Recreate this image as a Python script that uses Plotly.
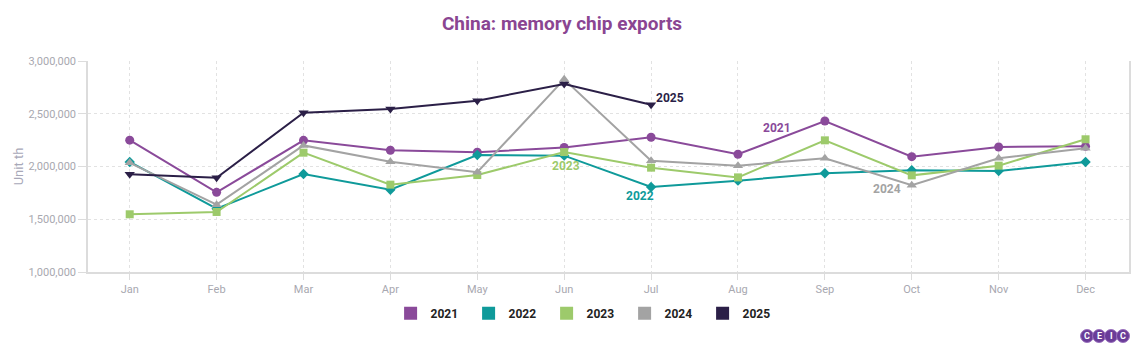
import plotly.graph_objects as go

months = ["Jan", "Feb", "Mar", "Apr", "May", "Jun", "Jul", "Aug", "Sep", "Oct", "Nov", "Dec"]
v2021 = [2250000, 1755000, 2248000, 2154000, 2135000, 2180000, 2277000, 2116000, 2431000, 2093000, 2185000, 2191000]
v2022 = [2043000, 1600000, 1929000, 1780000, 2109000, 2103000, 1806000, 1866000, 1936000, 1964000, 1957000, 2043000]
v2023 = [1547000, 1569000, 2131000, 1828000, 1919000, 2137000, 1989000, 1897000, 2248000, 1916000, 2008000, 2258000]
v2024 = [2035000, 1638000, 2200000, 2046000, 1945000, 2826000, 2055000, 2008000, 2078000, 1822000, 2078000, 2172000]
v2025 = [1926000, 1894000, 2510000, 2545000, 2624000, 2782000, 2586000]

series = [
    ("2021", v2021, "#8a4a9a", "circle", 9),
    ("2022", v2022, "#0f9a9a", "diamond", 8),
    ("2023", v2023, "#9dca6b", "square", 8),
    ("2024", v2024, "#a3a3a3", "triangle-up", 9),
    ("2025", v2025, "#2b1f47", "triangle-down", 9),
]

fig = go.Figure()
for name, vals, color, sym, size in series:
    fig.add_trace(go.Scatter(
        x=months[:len(vals)], y=vals, mode="lines+markers", name=name,
        line=dict(color=color, width=2),
        marker=dict(symbol=sym, size=size, color=color),
        showlegend=False, hovertemplate="%{x}: %{y:,}<extra>" + name + "</extra>"))
for name, vals, color, sym, size in series:
    fig.add_trace(go.Scatter(
        x=[None], y=[None], mode="markers", name=name,
        marker=dict(symbol="square", size=13, color=color, line=dict(width=0)),
        showlegend=True))

labels = [
    ("2025", 6, 2649000, "#2b1f47", "left", 3),
    ("2021", 7.45, 2365000, "#8a4a9a", "center", 0),
    ("2023", 5.02, 2005000, "#9dca6b", "center", 0),
    ("2022", 5.87, 1720000, "#0f9a9a", "center", 0),
    ("2024", 8.72, 1787000, "#a3a3a3", "center", 0),
]
for text, xv, yv, color, anchor, xs in labels:
    fig.add_annotation(x=xv, y=yv, text="<b>" + text + "</b>", showarrow=False,
                       xanchor=anchor, xshift=xs, font=dict(color=color, size=12, family="Roboto"))

# CEIC logo
L, T, W, H = 88, 61, 1043, 211
def px(x):
    return (x - L) / W
def py(y):
    return (T + H - y) / H
centers = [1089, 1101, 1113, 1125]
for cx, ch in zip(centers, "CEIC"):
    fig.add_shape(type="circle", xref="paper", yref="paper", layer="below",
                  x0=px(cx - 6.5), x1=px(cx + 6.5), y0=py(342.5), y1=py(329.5),
                  fillcolor="#6a3c98", line=dict(color="#9a70bd", width=1))
for cx, ch in zip(centers, "CEIC"):
    fig.add_annotation(xref="paper", yref="paper", x=px(cx), y=py(336), text="<b>" + ch + "</b>",
                       showarrow=False, xanchor="center", yanchor="middle",
                       font=dict(color="#ffffff", size=9, family="Roboto"))

fig.update_layout(
    width=1140, height=353,
    margin=dict(l=L, r=1140 - L - W, t=T, b=353 - T - H),
    paper_bgcolor="white", plot_bgcolor="white",
    font=dict(family="Roboto", color="#999"),
    title=dict(text="<b>China: memory chip exports</b>", x=0.493, xref="container", xanchor="center",
               y=0.935, yanchor="middle",
               font=dict(size=19, color="#8a4592", family="Roboto")),
    legend=dict(orientation="h", x=0.478, xanchor="center", y=-0.195, yanchor="middle",
                font=dict(size=12, color="#222", family="Roboto", weight="bold"),
                itemwidth=30, itemsizing="trace", entrywidth=33, entrywidthmode="pixels"),
    xaxis=dict(type="category", range=[-0.48, 11.5], showgrid=True, gridcolor="#e2e2e2", griddash="dot",
               showline=True, linecolor="#dcdcdc", linewidth=1.5,
               ticks="outside", ticklen=6, tickcolor="#dcdcdc",
               tickfont=dict(size=11, color="#a8a8b0"), zeroline=False),
    yaxis=dict(range=[1000000, 3000000], dtick=500000, tickformat=",", showgrid=True, gridcolor="#e2e2e2",
               griddash="dot", showline=True, linecolor="#dcdcdc", linewidth=1.5, mirror=True,
               ticks="outside", ticklen=8, tickcolor="#dcdcdc",
               tickfont=dict(size=11, color="#a8a8b0"), zeroline=False,
               title=dict(text="Unit th", font=dict(size=13, color="#a8a8b8"), standoff=2)),
)

fig.write_html("out.html")
